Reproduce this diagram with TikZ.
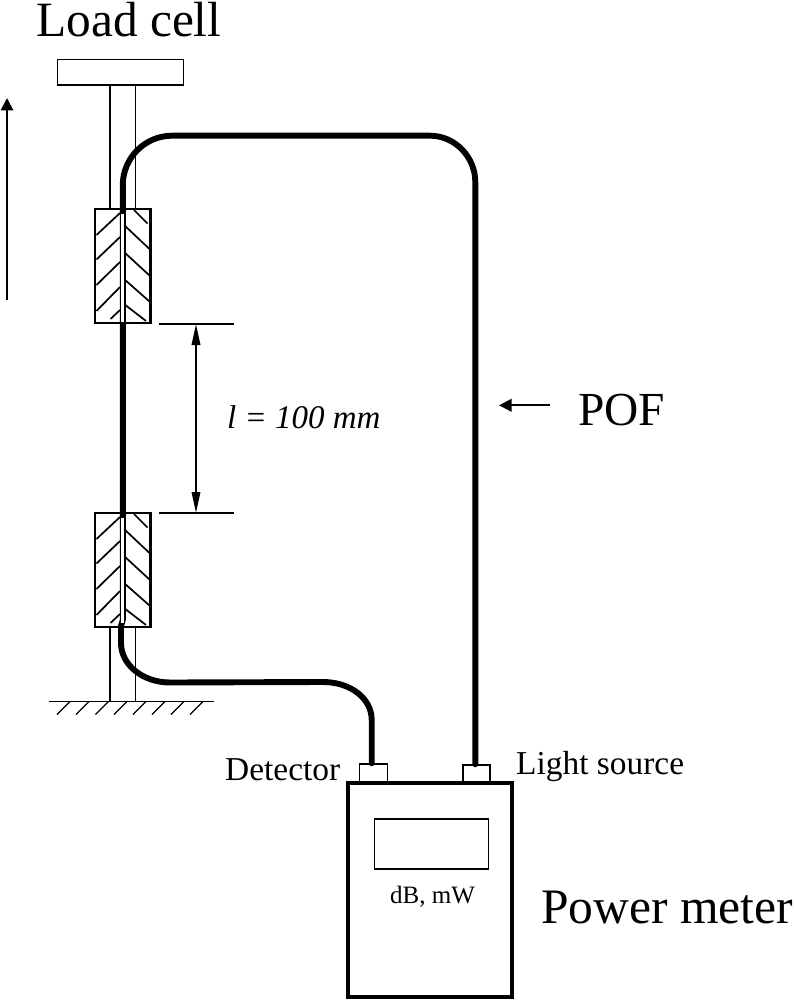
\documentclass[tikz,border=0pt]{standalone}
\usepackage{fontspec}
\setmainfont{Liberation Serif}
\usetikzlibrary{arrows.meta}
\tikzset{
  thin line/.style={line width=1.5pt,black},
  box line/.style={line width=2.4pt,black},
  meter line/.style={line width=4pt,black},
  fiber/.style={line width=5.9pt,black,line cap=round},
  hatch/.style={line width=1.7pt,black},
  ground/.style={line width=1.3pt,black},
  big/.style={font=\fontsize{49.6}{52}\selectfont,inner sep=0pt,anchor=base west},
  mid/.style={font=\fontsize{33.4}{36}\selectfont,inner sep=0pt,anchor=base west},
  arrowline/.style={line width=1.9pt,black,-{Triangle[length=12.5pt,width=12.5pt]}},
  dimline/.style={line width=1.9pt,black,{Triangle[length=21pt,width=8.5pt]}-{Triangle[length=21pt,width=8.5pt]}}
}
\begin{document}
\begin{tikzpicture}[x=1pt,y=-1pt]
\useasboundingbox (0,0) rectangle (794,1000);
% labels
\node[big,font=\fontsize{49.4}{52}\selectfont] (loadlabel) at (36,37) {Load cell};
\node[big,font=\fontsize{47.4}{50}\selectfont] (poflabel) at (578,425) {POF};
\node[big] (meterlabel) at (541,923) {Power meter};
\node[mid] (detlabel) at (225,780) {Detector};
\node[mid] (srclabel) at (516,774) {Light source};
\node[mid,font=\fontsize{33}{36}\selectfont\itshape] (lenlabel) at (227,428) {l = 100 mm};
\node[inner sep=0pt,anchor=base west,font=\fontsize{25}{28}\selectfont] (unitlabel) at (390,903) {dB, mW};
% load cell
\node[thin line,draw,minimum width=126pt,minimum height=25.5pt,inner sep=0pt] (cell) at (120.5,72.5) {};
% clamps
\node[box line,draw,minimum width=55.5pt,minimum height=114pt,inner sep=0pt] (clampA) at (122.8,266) {};
\node[box line,draw,minimum width=55.5pt,minimum height=114pt,inner sep=0pt] (clampB) at (122.8,570) {};
% rods
\draw[thin line] (cell.south -| 110,0) -- (clampA.north -| 110,0);
\draw[thin line] (cell.south -| 135.5,0) -- (clampA.north -| 135.5,0);
\coordinate (gl) at (49,701.5);
\coordinate (gr) at (214,701.5);
\draw[thin line] (clampB.south -| 110,0) -- (gl -| 110,0);
\draw[thin line] (clampB.south -| 135.5,0) -- (gl -| 135.5,0);
% ground
\draw[ground] (gl) -- (gr);
\foreach \x in {70,89,108.5,127,146,165,184,203}
  \draw[ground] (\x,701.5) -- (\x-13,714.5);
% clamp hatching
\foreach \oy in {0,304}{
  \begin{scope}[yshift=-\oy pt]
  \foreach \a/\b/\c/\d in {
    120/213/96.5/235,
    120/237/96.5/259.5,
    120/262/96.5/285,
    120/287/96.5/311,
    120/310/110.5/319,
    134/210/147.5/223.5,
    124/225/149.5/249,
    124/252/149.5/275.5,
    124/279/149.5/301.5,
    124/304/146/321}
    \draw[hatch] (\a,\b) -- (\c,\d);
  \end{scope}
}
% meter
\node[meter line,draw,minimum width=164pt,minimum height=214pt,inner sep=0pt] (meter) at (430,890) {};
\node[thin line,line width=1.7pt,draw,minimum width=114pt,minimum height=50pt,inner sep=0pt] (display) at (431.5,844) {};
\node[thin line,line width=1.7pt,draw,minimum width=28pt,minimum height=18pt,inner sep=0pt,anchor=south] (detport) at (373.5,783) {};
\node[thin line,line width=1.7pt,draw,minimum width=27pt,minimum height=17pt,inner sep=0pt,anchor=south] (srcport) at (476.5,783) {};
% fibre
\draw[fiber,line join=round] (detport.north -| 371.7,0) -- (371.7,720)
  .. controls (371.7,698) and (350,682) .. (323,682)
  -- (170,682.5)
  .. controls (143,682.5) and (121,665) .. (121,643)
  -- (121,626) -- (122.8,620)
  -- (122.8,185)
  .. controls (122.8,158) and (145,135.7) .. (172,135.7)
  -- (430,135.7)
  .. controls (455,135.7) and (475.3,157) .. (475.3,182)
  -- (srcport.north -| 475.3,0);
% hollow fibre inside the clamps
\draw[white,line width=2.4pt] (122.6,214) -- (122.6,322);
\draw[white,line width=2.4pt] (122.6,518) -- (122.6,623);
% arrows
\coordinate (pullA) at (7,300);
\coordinate (pullB) at (7,98);
\draw[arrowline] (pullA) -- (pullB);
\coordinate (dimT) at (159,324);
\coordinate (dimTr) at (234,324);
\coordinate (dimB) at (159,513);
\coordinate (dimBr) at (234,513);
\draw[thin line] (dimT) -- (dimTr);
\draw[thin line] (dimB) -- (dimBr);
\draw[dimline] (196,324) -- (196,513);
\coordinate (pofA) at (550,405.3);
\coordinate (pofB) at (499,405.3);
\draw[arrowline] (pofA) -- (pofB);
\end{tikzpicture}
\end{document}
